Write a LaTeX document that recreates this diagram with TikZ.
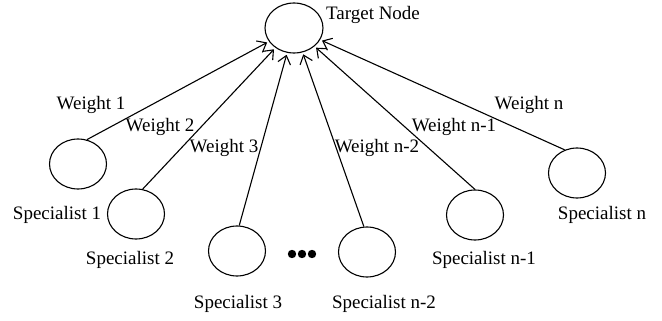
\documentclass[tikz,border=0pt]{standalone}
\usepackage{fontspec}
\setmainfont{Liberation Serif}
\usetikzlibrary{shapes.geometric, arrows.meta, positioning}
\tikzset{
    % Circles for the nodes
    unit node/.style={
        ellipse,
        draw=black,
        fill=white,
        line width=1.1pt,
        minimum width=57pt,
        minimum height=50pt,
        inner sep=0pt
    },
    name label/.style={
        font=\fontsize{19}{21}\selectfont,
        inner sep=0pt
    },
    weight label/.style={
        font=\fontsize{19}{21}\selectfont,
        inner sep=0pt
    },
    arrow style/.style={
        -{Straight Barb[length=8pt, width=13pt]},
        line width=1.1pt,
        shorten >=2pt,
        black
    }
}

\begin{document}
\begin{tikzpicture}[x=1pt, y=-1pt]
        \useasboundingbox (0,0) rectangle (662,321);

        % Target
        \node[unit node, minimum width=58pt] (target) at (294, 28) {};
        \node[name label] (targetlbl) at (373, 15) {Target Node};

        % Specialists
        \node[unit node] (s1) at (78, 164) {};
        \node[unit node] (s2) at (136, 214) {};
        \node[unit node] (s3) at (237, 251) {};
        \node[unit node] (sn2) at (367, 252) {};
        \node[unit node] (sn1) at (475, 215) {};
        \node[unit node] (sn) at (577, 173) {};

        \node[name label] (s1lbl) at (57, 215) {Specialist 1};
        \node[name label] (s2lbl) at (130, 260) {Specialist 2};
        \node[name label] (s3lbl) at (238, 304) {Specialist 3};
        \node[name label] (sn2lbl) at (384, 304) {Specialist n-2};
        \node[name label] (sn1lbl) at (484, 260) {Specialist n-1};
        \node[name label] (snlbl) at (602, 215) {Specialist n};

        % Dots between 3 and n-2
        \foreach \dx in {-10, 0, 10} {
            \fill (302+\dx, 254) circle (4.2pt);
        }

        % Weighted connections
        \draw[arrow style] (s1.70) -- (target);
        \draw[arrow style] (s2.75) -- (target);
        \draw[arrow style] (s3.85) -- (target);
        \draw[arrow style] (sn2.97) -- (target);
        \draw[arrow style] (sn1.90) -- (target);
        \draw[arrow style] (sn.118) -- (target);

        \node[weight label] (w1) at (91, 105) {Weight 1};
        \node[weight label] (w2) at (160, 127) {Weight 2};
        \node[weight label] (w3) at (224, 148) {Weight 3};
        \node[weight label] (wn2) at (377, 148) {Weight n-2};
        \node[weight label] (wn1) at (454, 127) {Weight n-1};
        \node[weight label] (wn) at (529, 105) {Weight n};
    \end{tikzpicture}
\end{document}
